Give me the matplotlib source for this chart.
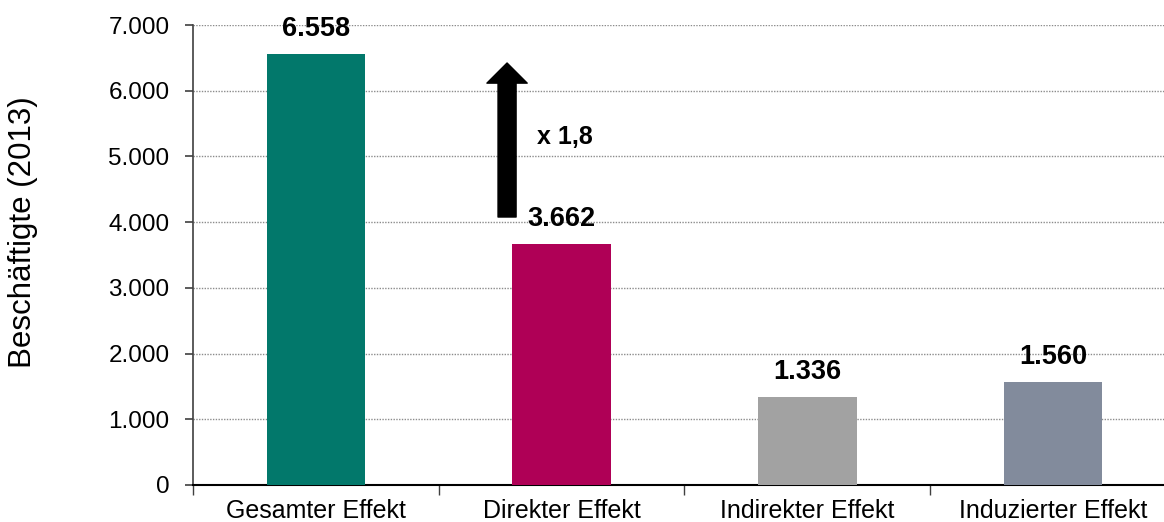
import matplotlib.pyplot as plt
from matplotlib.ticker import FuncFormatter, FixedLocator

plt.rcParams['font.family'] = ['Liberation Sans', 'DejaVu Sans']

# Data
categories = ['Gesamter Effekt', 'Direkter Effekt', 'Indirekter Effekt', 'Induzierter Effekt']
values = [6558, 3662, 1336, 1560]
colors = ['#02786B', '#AF0056', '#A2A2A2', '#828B9C']
multiplier_text = 'x 1,8'

fig = plt.figure(figsize=(11.64, 5.22), dpi=100)
ax = fig.add_axes([0.1658, 0.0709, 0.8445, 0.8812])

x = list(range(len(categories)))
ax.bar(x, values, width=0.4, color=colors, zorder=3)

# value labels above the bars
for xi, v in zip(x, values):
    label = f'{v:,}'.replace(',', '.')
    ax.annotate(label, (xi, v), xytext=(0, 13), textcoords='offset points',
                ha='center', va='baseline', fontsize=19.5, fontweight='bold')

# arrow from direct to total effect
ax.annotate('', xy=(0.778, 6422), xytext=(0.778, 4078),
            arrowprops=dict(facecolor='black', edgecolor='black', width=13,
                            headwidth=29, headlength=14.5, shrink=0))
ax.text(0.9, 5296, multiplier_text, ha='left', va='center',
        fontsize=18, fontweight='bold')

ax.set_xlim(-0.5, 3.5)
ax.set_ylim(0, 7000)
ax.set_yticks(range(0, 7001, 1000))
ax.yaxis.set_major_formatter(FuncFormatter(lambda v, p: f'{int(v):,}'.replace(',', '.')))
ax.tick_params(axis='y', labelsize=17.5, length=6, width=1.2, color='#404040', pad=11)

ax.set_xticks(x)
ax.set_xticklabels(categories)
ax.xaxis.set_minor_locator(FixedLocator([-0.5, 0.5, 1.5, 2.5]))
ax.tick_params(axis='x', which='major', length=0, labelsize=18, pad=10)
ax.tick_params(axis='x', which='minor', length=7, width=1, color='#404040')

ax.set_ylabel('Beschäftigte (2013)', fontsize=22.5)
ax.yaxis.set_label_coords(-0.158, 0.55)

ax.grid(axis='y', color='#8C8C8C', linestyle=(0, (1, 1)), linewidth=1, zorder=0)
for s in ['top', 'right']:
    ax.spines[s].set_visible(False)
ax.spines['left'].set_color('#404040')
ax.spines['left'].set_linewidth(1.2)
ax.spines['bottom'].set_color('black')
ax.spines['bottom'].set_linewidth(1.5)

fig.savefig('out.png', dpi=100)
